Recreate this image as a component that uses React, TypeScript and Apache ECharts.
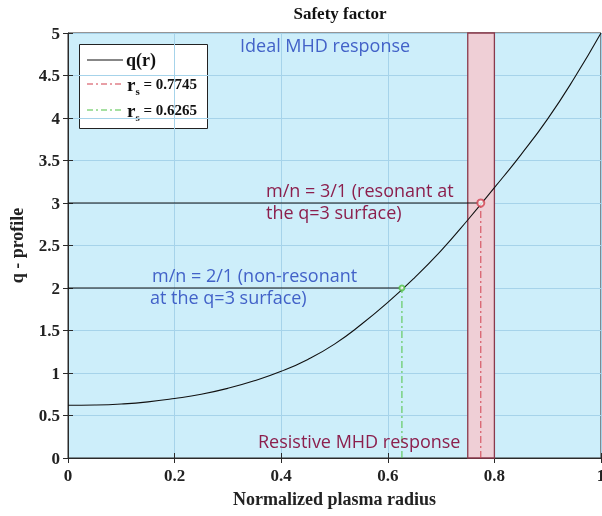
import React, { useEffect, useRef } from "react";
import * as echarts from "echarts";

const radius = [0, 0.05, 0.1, 0.15, 0.2, 0.25, 0.3, 0.35, 0.4, 0.45, 0.5, 0.55, 0.6, 0.65, 0.7, 0.75, 0.8, 0.85, 0.9, 0.95, 1.0];
const qProfile = [0.62, 0.623, 0.635, 0.66, 0.7, 0.75, 0.82, 0.91, 1.02, 1.16, 1.34, 1.57, 1.83, 2.12, 2.44, 2.8, 3.18, 3.57, 3.99, 4.47, 5.0];
const rsValues = [0.7745, 0.6265];
const qSurfaces = [3, 2];
const rsLabels = ["0.7745", "0.6265"];
const resonantBand = [0.75, 0.8];
const xTicks = [0, 0.2, 0.4, 0.6, 0.8, 1];

const SERIF = "'Liberation Serif', 'Times New Roman', serif";
const SANS = "'Open Sans', 'Noto Sans', sans-serif";
const BLUE = "#4262c8";
const MAROON = "#8c1f4d";
const RED = "#d2404f";
const GREEN = "#4fc244";

export default function App() {
  const ref = useRef<HTMLDivElement>(null);
  useEffect(() => {
    if (!ref.current) return;
    document.body.style.margin = "0";
    document.body.style.overflow = "hidden";
    const chart = echarts.init(ref.current, undefined, { renderer: "svg", width: 602, height: 516 });
    const curve = radius.map((r, i) => [r, qProfile[i]]);
    const lineColors = [RED, GREEN];
    const markerSizes = [7, 5];

    const refSeries: any[] = [];
    rsValues.forEach((rs, i) => {
      refSeries.push({
        type: "line",
        data: [[xTicks[0], qSurfaces[i]], [rs, qSurfaces[i]]],
        symbol: "none",
        lineStyle: { color: "#111", width: 1 },
        z: 3,
      });
      refSeries.push({
        type: "line",
        data: [[rs, 0], [rs, qSurfaces[i]]],
        symbol: "none",
        lineStyle: { color: lineColors[i], width: 1, type: [7, 3, 2, 3] },
        z: 3,
      });
      refSeries.push({
        type: "scatter",
        data: [[rs, qSurfaces[i]]],
        symbol: "emptyCircle",
        symbolSize: markerSizes[i],
        itemStyle: { color: lineColors[i], borderColor: lineColors[i], borderWidth: 1 },
        z: 5,
      });
    });

    const axisLabelStyle = { fontFamily: SERIF, fontWeight: "bold", fontSize: 17, color: "#222" };
    const annFont = `18px ${SANS}`;

    chart.setOption({
      animation: false,
      title: {
        text: "Safety factor",
        left: 335,
        textAlign: "center",
        top: 0,
        textStyle: { fontFamily: SERIF, fontWeight: "bold", fontSize: 17, color: "#111" },
      },
      grid: {
        left: 68,
        right: 1,
        top: 33,
        bottom: 58,
        outerBoundsMode: "none",
        containLabel: false,
        show: true,
        backgroundColor: "#cdeefa",
        borderColor: "#2a2a2a",
        borderWidth: 1,
      },
      xAxis: [
        {
          type: "value",
          min: 0,
          max: 1,
          interval: 0.2,
          name: "Normalized plasma radius",
          nameLocation: "middle",
          nameGap: 32,
          nameTextStyle: { fontFamily: SERIF, fontWeight: "bold", fontSize: 18, color: "#222" },
          axisLine: { show: true, lineStyle: { color: "#2a2a2a" } },
          axisTick: { show: true, inside: true, length: 5, lineStyle: { color: "#2a2a2a" } },
          axisLabel: { ...axisLabelStyle, margin: 9 },
          splitLine: { show: true, lineStyle: { color: "#a6d3ea", width: 1 } },
        },
        {
          type: "value",
          position: "top",
          min: 0,
          max: 1,
          interval: 0.2,
          axisLine: { show: false },
          axisTick: { show: true, inside: true, length: 5, lineStyle: { color: "#2a2a2a" } },
          axisLabel: { show: false },
          splitLine: { show: false },
        },
      ],
      yAxis: [
        {
          type: "value",
          min: 0,
          max: 5,
          interval: 0.5,
          name: "q - profile",
          nameLocation: "middle",
          nameGap: 42,
          nameTextStyle: { fontFamily: SERIF, fontWeight: "bold", fontSize: 18, color: "#222" },
          axisLine: { show: true, lineStyle: { color: "#2a2a2a" } },
          axisTick: { show: true, inside: true, length: 5, lineStyle: { color: "#2a2a2a" } },
          axisLabel: { ...axisLabelStyle, margin: 8 },
          splitLine: { show: true, lineStyle: { color: "#a6d3ea", width: 1 } },
        },
        {
          type: "value",
          position: "right",
          min: 0,
          max: 5,
          interval: 0.5,
          axisLine: { show: false },
          axisTick: { show: true, inside: true, length: 5, lineStyle: { color: "#2a2a2a" } },
          axisLabel: { show: false },
          splitLine: { show: false },
        },
      ],
      series: [
        {
          type: "line",
          name: "q(r)",
          data: curve,
          smooth: true,
          symbol: "none",
          lineStyle: { color: "#111", width: 1.1 },
          z: 4,
          markArea: {
            silent: true,
            itemStyle: { color: "#efcfd6", borderColor: "#8a3a4c", borderWidth: 1.3 },
            data: [[{ xAxis: resonantBand[0] }, { xAxis: resonantBand[1] }]],
          },
        },
        ...refSeries,
      ],
      graphic: [
        { type: "text", left: 240, top: 36, style: { text: "Ideal MHD response", fill: BLUE, font: annFont }, z: 10 },
        { type: "text", left: 266, top: 181, style: { text: "m/n = 3/1 (resonant at", fill: MAROON, font: annFont }, z: 10 },
        { type: "text", left: 266, top: 203, style: { text: "the q=3 surface)", fill: MAROON, font: annFont }, z: 10 },
        { type: "text", left: 152, top: 266, style: { text: "m/n = 2/1 (non-resonant", fill: BLUE, font: annFont }, z: 10 },
        { type: "text", left: 150, top: 288, style: { text: "at the q=3 surface)", fill: BLUE, font: annFont }, z: 10 },
        { type: "text", left: 258, top: 432, style: { text: "Resistive MHD response", fill: MAROON, font: annFont }, z: 10 },
        {
          type: "group",
          z: 20,
          children: [
            { type: "rect", shape: { x: 79.5, y: 44.5, width: 128, height: 84 }, style: { fill: "#fff", stroke: "#222", lineWidth: 1 } },
            { type: "line", shape: { x1: 87, y1: 60, x2: 123, y2: 60 }, style: { stroke: "#111", lineWidth: 1.2 } },
            { type: "text", x: 126, y: 60, style: { text: "q(r)", fill: "#111", font: `bold 18px ${SERIF}`, verticalAlign: "middle" } },
            ...rsLabels.map((lab, i) => ({ type: "group", children: [
              { type: "line", shape: { x1: 87, y1: 84 + i * 26, x2: 123, y2: 84 + i * 26 }, style: { stroke: lineColors[i], lineWidth: 1.2, lineDash: [6, 3, 2, 3] } },
              {
                type: "text",
                x: 127,
                y: 84 + i * 26,
                style: {
                  text: `{r|r}{s|s}{t| = ${lab}}`,
                  verticalAlign: "middle",
                  rich: {
                    r: { font: `bold 19px ${SERIF}`, fill: "#111" },
                    s: { font: `bold 11px ${SERIF}`, fill: "#111", padding: [14, 0, 0, 0] },
                    t: { font: `bold 15px ${SERIF}`, fill: "#111" },
                  },
                },
              },
            ] })),
          ],
        },
      ],
    });
    return () => chart.dispose();
  }, []);
  return <div ref={ref} style={{ position: "fixed", left: 0, top: 0, width: 602, height: 516 }} />;
}
